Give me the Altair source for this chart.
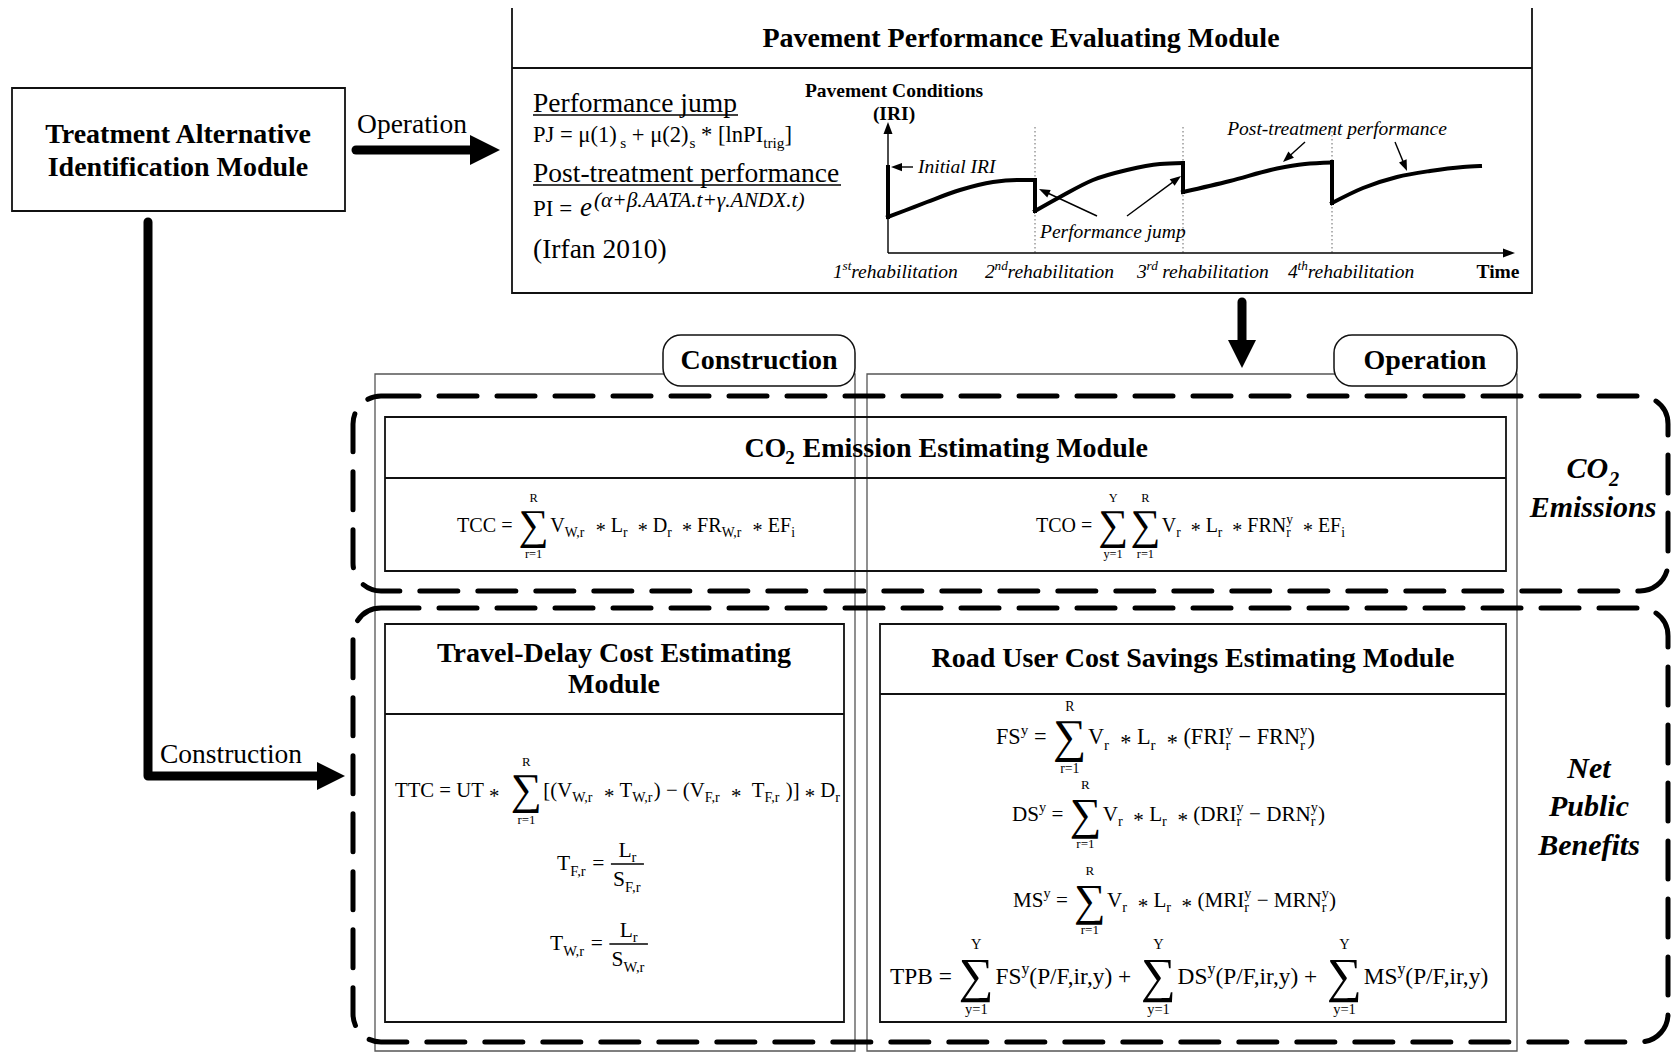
import math
import altair as alt
import pandas as pd

# ---------------------------------------------------------------
# canvas (page pixel coordinates of the reference figure)
# ---------------------------------------------------------------
W, H, OFF = 1663, 1045, 8
SERIF = "Liberation Serif"

# ---------------- boxes ----------------
box_name = ["Treatment", "Pavement", "CO2 module", "Travel-delay", "Road user"]
box_left = [12, 512, 385, 385, 880]
box_right = [345, 1532, 1506, 844, 1506]
box_top = [88, 7, 417, 624, 624]
box_bottom = [211, 293, 571, 1022, 1022]

column_name = ["Construction column", "Operation column"]
column_left = [375, 867]
column_right = [855, 1517]
column_top = [374, 374]
column_bottom = [1051, 1051]

divider_left = [512, 385, 385, 880]
divider_right = [1532, 1506, 844, 1506]
divider_y = [68, 478, 714, 694]

tag_text = ["Construction", "Operation"]
tag_left = [663, 1334]
tag_right = [855, 1517]
tag_top = [335, 335]
tag_bottom = [386, 386]
tag_cx = [759, 1425]
tag_base = [369, 369]

group_name = ["CO2 Emissions", "Net Public Benefits"]
group_left = [353, 353]
group_right = [1668, 1668]
group_top = [396, 608]
group_bottom = [591, 1042]

# ---------------- thick flow arrows ----------------
flow_id = ["operation", "operation", "construction", "construction", "construction", "down", "down"]
flow_x = [356, 472, 148, 148, 320, 1242, 1242]
flow_y = [150, 150, 222, 776, 776, 302, 344]
flow_head_x = [500, 345, 1242]
flow_head_y = [150, 776, 368]
flow_head_angle = [0, 0, 90]
flow_head_len = [30, 28, 28]

# ---------------- performance graph ----------------
axis_x0, axis_y0 = 888, 253
axis_top, axis_right = 122, 1515
rehab_x = [888, 1035, 1183, 1332]
rehab_high = [167, 180, 163, 162]
rehab_low = [217, 211, 192, 203]
dotted_x = [1035, 1183, 1332]
dotted_top, dotted_bottom = 127, 253

curve_x = [
    [888, 905, 927, 960, 993, 1017, 1035],
    [1035, 1060, 1093, 1127, 1160, 1183],
    [1183, 1230, 1277, 1305, 1332],
    [1332, 1363, 1397, 1430, 1463, 1480],
]
curve_y = [
    [217, 210.5, 202, 190, 182, 180, 180],
    [211, 197, 180, 170, 164, 163],
    [192, 181, 168.5, 164, 162.5],
    [203, 188, 177, 171, 167, 166],
]

note_x1 = [913, 1097, 1127, 1305, 1395]
note_y1 = [167, 216, 216, 142, 142]
note_x2 = [891, 1039, 1181, 1283, 1407]
note_y2 = [167, 189, 176, 162, 171]

rehab_label_num = ["1", "2", "3", "4"]
rehab_label_sup = ["st", "nd", "rd", "th"]
rehab_label_word = ["rehabilitation", "rehabilitation", " rehabilitation", "rehabilitation"]
rehab_label_left = [833, 985, 1137, 1288]
rehab_label_base = 278

underline_left = [533, 533]
underline_right = [738, 841]
underline_y = [115, 185]

# ---------------------------------------------------------------
# simple text metrics (Times / Liberation Serif advance widths)
# ---------------------------------------------------------------
CW = {" ": 250, "(": 333, ")": 333, "[": 333, "]": 333, ",": 250, ".": 250, "/": 278,
      "=": 564, "+": 564, "\u2212": 564, "*": 500, "\u2211": 713, "-": 333,
      "\u03bc": 576, "\u03b1": 520, "\u03b2": 500, "\u03b3": 440,
      "A": 722, "B": 667, "C": 667, "D": 722, "E": 611, "F": 556, "I": 333, "L": 611,
      "M": 889, "N": 722, "O": 722, "P": 556, "R": 667, "S": 556, "T": 611, "U": 722,
      "V": 722, "W": 944, "X": 722, "Y": 722,
      "a": 444, "b": 500, "c": 444, "d": 500, "e": 444, "f": 333, "g": 500, "h": 500,
      "i": 278, "j": 278, "l": 278, "m": 778, "n": 500, "o": 500, "p": 500, "r": 333,
      "s": 389, "t": 278, "u": 500, "v": 500, "y": 500}
STYLE_W = {"normal": 1.0, "italic": 0.98, "bold": 1.05, "bolditalic": 1.02}
AST_CHAR = "\u2217"


def tw(s, size, wf=1.0):
    return sum(CW.get(c, 500) for c in s) * size / 1000.0 * wf


def lay(tokens, s, wf=1.0):
    items, rules = [], []
    pos = [0.0]

    def emit(txt, z, dy):
        lead = len(txt) - len(txt.lstrip(" "))
        trail = len(txt) - len(txt.rstrip(" "))
        core = txt.strip(" ")
        pos[0] += lead * tw(" ", z, wf)
        if core:
            items.append((pos[0], dy, core, z))
            pos[0] += tw(core, z, wf)
        pos[0] += trail * tw(" ", z, wf)

    def emit_math(txt, z, dy):
        parts = txt.split(AST_CHAR)
        for i, part in enumerate(parts):
            emit(part, z, dy)
            if i < len(parts) - 1:
                items.append((pos[0], dy + 0.27 * z, "*", z))
                pos[0] += tw("*", z, wf)

    for tok in tokens:
        k = tok[0]
        x = pos[0]
        if k == "t":
            emit_math(tok[1], s, 0.0)
        elif k == "sub":
            emit_math(tok[1], 0.68 * s, 0.26 * s)
        elif k == "sup":
            emit_math(tok[1], 0.68 * s, -0.42 * s)
        elif k == "subsup":
            z = 0.68 * s
            items.append((x, 0.26 * s, tok[1], z))
            items.append((x, -0.42 * s, tok[2], z))
            pos[0] = x + max(tw(tok[1], z, wf), tw(tok[2], z, wf))
        elif k == "sum":
            g, lz = 2.1 * s, 0.62 * s
            gw = tw("\u2211", g, wf)
            w = max(gw, tw(tok[1], lz, wf), tw(tok[2], lz, wf))
            cx = x + 0.05 * s + w / 2
            items.append((cx - gw / 2, 0.36 * s, "\u2211", g))
            items.append((cx - tw(tok[1], lz, wf) / 2, -1.5 * s, tok[1], lz))
            items.append((cx - tw(tok[2], lz, wf) / 2, 1.3 * s, tok[2], lz))
            pos[0] = x + w + 0.12 * s
        elif k == "frac":
            ni, _, nw = lay(tok[1], s, wf)
            di, _, dw = lay(tok[2], s, wf)
            bw = max(nw, dw) + 0.2 * s
            x0 = x + 0.05 * s
            for (a, b, t, z) in ni:
                items.append((x0 + (bw - nw) / 2 + a, b - 0.62 * s, t, z))
            for (a, b, t, z) in di:
                items.append((x0 + (bw - dw) / 2 + a, b + 0.75 * s, t, z))
            rules.append((x0, x0 + bw, -0.28 * s))
            pos[0] = x0 + bw + 0.05 * s
    return items, rules, pos[0]


text_rows, bar_rows = [], []


def add(text, x, y, size, style="normal", align="left"):
    text_rows.append(dict(x=x, y=y, text=text, size=size, style=style, align=align))


def place(tokens, x, base, s, style="normal", anchor="left"):
    wf = STYLE_W[style]
    items, rules, w = lay(tokens, s, wf)
    x0 = x - w / 2 if anchor == "center" else x
    for (a, b, t, z) in items:
        add(t, x0 + a, base + b, z, style)
    for (a, b, c) in rules:
        bar_rows.append(dict(x1=x0 + a, x2=x0 + b, y=base + c))


def place_fit(tokens, left, right, base, style="normal"):
    _, _, w1 = lay(tokens, 1.0, STYLE_W[style])
    place(tokens, left, base, (right - left) / w1, style)


# ---------------- texts ----------------
add("Treatment Alternative", 178, 143, 28, "bold", "center")
add("Identification Module", 178, 176, 28, "bold", "center")
add("Operation", 412, 133, 27.5, "normal", "center")
add("Construction", 231, 763, 27.5, "normal", "center")
add("Pavement Performance Evaluating  Module", 1021, 47, 28, "bold", "center")
for t, cx, b in zip(tag_text, tag_cx, tag_base):
    add(t, cx, b, 28, "bold", "center")
add("Travel-Delay Cost  Estimating", 614, 662, 28, "bold", "center")
add("Module", 614, 693, 28, "bold", "center")
add("Road User Cost Savings Estimating Module", 1193, 667, 28, "bold", "center")
place([("t", "CO"), ("sub", "2"), ("t", " Emission Estimating Module")], 945, 457, 28, "bold", "center")
place([("t", "CO"), ("sub", "2")], 1593, 478, 30, "bolditalic", "center")
add("Emissions", 1593, 517, 30, "bolditalic", "center")
for word, b in zip(["Net", "Public", "Benefits"], [778, 816, 855]):
    add(word, 1589, b, 30, "bolditalic", "center")

# pavement module left column
add("Performance jump", 533, 112, 27.5)
place_fit([("t", "PJ = \u03bc(1)"), ("sub", "s"), ("t", " + \u03bc(2)"), ("sub", "s"),
           ("t", " * [lnPI"), ("sub", "trig"), ("t", "]")], 533, 792, 142)
add("Post-treatment performance", 533, 182, 27.5)
add("PI =", 533, 216, 23)
add("e", 580, 216, 27, "italic")
place_fit([("t", "(\u03b1+\u03b2.AATA.t+\u03b3.ANDX.t)")], 594, 813, 207, "italic")
add("(Irfan 2010)", 533, 258, 27.5)

# graph annotations
add("Pavement Conditions", 894, 97, 19.5, "bold", "center")
add("(IRI)", 894, 120, 19.5, "bold", "center")
add("Time", 1498, 278, 19.5, "bold", "center")
add("Initial IRI", 918, 173, 19.5, "italic")
add("Performance jump", 1040, 238, 19.5, "italic")
add("Post-treatment performance", 1337, 135, 19.5, "italic", "center")
for n, sp, wd, lx in zip(rehab_label_num, rehab_label_sup, rehab_label_word, rehab_label_left):
    place([("t", n), ("sup", sp), ("t", wd)], lx, rehab_label_base, 19.5, "italic")

# formulas
AST = " " + AST_CHAR + " "
MINUS = " \u2212 "
place_fit([("t", "TCC = "), ("sum", "R", "r=1"), ("t", "V"), ("sub", "W,r"), ("t", AST + "L"), ("sub", "r"),
           ("t", AST + "D"), ("sub", "r"), ("t", AST + "FR"), ("sub", "W,r"), ("t", AST + "EF"), ("sub", "i")],
          457, 795, 532)
place_fit([("t", "TCO = "), ("sum", "Y", "y=1"), ("sum", "R", "r=1"), ("t", "V"), ("sub", "r"),
           ("t", AST + "L"), ("sub", "r"), ("t", AST + "FRN"), ("subsup", "r", "y"),
           ("t", AST + "EF"), ("sub", "i")], 1036, 1345, 532)
place_fit([("t", "TTC = UT" + AST), ("sum", "R", "r=1"), ("t", "[(V"), ("sub", "W,r"), ("t", AST + "T"),
           ("sub", "W,r"), ("t", ")" + MINUS + "(V"), ("sub", "F,r"), ("t", AST + " T"), ("sub", "F,r"),
           ("t", " )]" + AST + "D"), ("sub", "r")], 395, 840, 797)
place_fit([("t", "T"), ("sub", "F,r"), ("t", " = "),
           ("frac", [("t", "L"), ("sub", "r")], [("t", "S"), ("sub", "F,r")])], 557, 645, 870)
place_fit([("t", "T"), ("sub", "W,r"), ("t", " = "),
           ("frac", [("t", "L"), ("sub", "r")], [("t", "S"), ("sub", "W,r")])], 550, 649, 950)
for lab, a, b, left, right, base in [("FS", "FRI", "FRN", 996, 1315, 744),
                                      ("DS", "DRI", "DRN", 1012, 1325, 821),
                                      ("MS", "MRI", "MRN", 1013, 1336, 907)]:
    place_fit([("t", lab), ("sup", "y"), ("t", " = "), ("sum", "R", "r=1"), ("t", "V"), ("sub", "r"),
               ("t", AST + "L"), ("sub", "r"), ("t", AST + "(" + a), ("subsup", "r", "y"),
               ("t", MINUS + b), ("subsup", "r", "y"), ("t", ")")], left, right, base)
place_fit([("t", "TPB = "), ("sum", "Y", "y=1"), ("t", "FS"), ("sup", "y"), ("t", "(P/F,ir,y) + "),
           ("sum", "Y", "y=1"), ("t", "DS"), ("sup", "y"), ("t", "(P/F,ir,y) + "),
           ("sum", "Y", "y=1"), ("t", "MS"), ("sup", "y"), ("t", "(P/F,ir,y)")], 890, 1491, 984)

# ---------------------------------------------------------------
# tables
# ---------------------------------------------------------------
canvas = pd.DataFrame(dict(x1=[OFF], x2=[OFF + W], y1=[OFF], y2=[OFF + H]))
boxes = pd.DataFrame(dict(name=box_name, x1=box_left, x2=box_right, y1=box_top, y2=box_bottom))
columns = pd.DataFrame(dict(name=column_name, x1=column_left, x2=column_right, y1=column_top, y2=column_bottom))
dividers = pd.DataFrame(dict(x1=divider_left, x2=divider_right, y=divider_y))
tags = pd.DataFrame(dict(name=tag_text, x1=tag_left, x2=tag_right, y1=tag_top, y2=tag_bottom))
groups = pd.DataFrame(dict(name=group_name, x1=group_left, x2=group_right, y1=group_top, y2=group_bottom))

flow_order = []
cnt = {}
for f in flow_id:
    cnt[f] = cnt.get(f, -1) + 1
    flow_order.append(cnt[f])
flows = pd.DataFrame(dict(id=flow_id, o=flow_order, x=flow_x, y=flow_y))
flow_heads = pd.DataFrame(dict(x=flow_head_x, y=flow_head_y, ang=flow_head_angle,
                               size=[l * l for l in flow_head_len]))

thin_lines, thin_heads = [], []
arrow_specs = list(zip(note_x1, note_y1, note_x2, note_y2, [11] * len(note_x1)))
arrow_specs += [(axis_x0, axis_y0, axis_x0, axis_top, 12), (axis_x0, axis_y0, axis_right, axis_y0, 12)]
for i, (a, b, c, d, ln) in enumerate(arrow_specs):
    dx, dy = c - a, d - b
    L = math.hypot(dx, dy)
    ux, uy = dx / L, dy / L
    thin_lines += [dict(id=i, o=0, x=a, y=b), dict(id=i, o=1, x=c - ux * ln * 0.7, y=d - uy * ln * 0.7)]
    thin_heads.append(dict(x=c, y=d, ang=math.degrees(math.atan2(dy, dx)) % 360, size=ln * ln))
thin_lines = pd.DataFrame(thin_lines)
thin_heads = pd.DataFrame(thin_heads)

curve_rows = []
for k, (xs, ys) in enumerate(zip(curve_x, curve_y)):
    for j, (xv, yv) in enumerate(zip(xs, ys)):
        curve_rows.append(dict(seg=k, o=j, x=xv, y=yv))
curves = pd.DataFrame(curve_rows)
drops = pd.DataFrame(dict(x=rehab_x, y1=rehab_high, y2=rehab_low))
dotted = pd.DataFrame(dict(x=dotted_x, y1=[dotted_top] * 3, y2=[dotted_bottom] * 3))
underlines = pd.DataFrame(dict(x1=underline_left, x2=underline_right, y=underline_y))
bars = pd.DataFrame(bar_rows)
texts = pd.DataFrame(text_rows)

# ---------------------------------------------------------------
# chart
# ---------------------------------------------------------------
XS = alt.Scale(domain=[OFF, OFF + W], nice=False, zero=False)
YS = alt.Scale(domain=[OFF, OFF + H], nice=False, zero=False, reverse=True)


def X(f):
    return alt.X(f + ":Q", scale=XS, axis=None)


def Y(f):
    return alt.Y(f + ":Q", scale=YS, axis=None)


def rects(df, **kw):
    return alt.Chart(df).mark_rect(**kw).encode(x=X("x1"), x2=alt.X2("x2"), y=Y("y1"), y2=alt.Y2("y2"))


def hrules(df, **kw):
    return alt.Chart(df).mark_rule(**kw).encode(x=X("x1"), x2=alt.X2("x2"), y=Y("y"))


layers = []
layers.append(rects(canvas, fill="white", fillOpacity=1, strokeWidth=0))
layers.append(rects(columns, fill="white", fillOpacity=0, stroke="#555555", strokeWidth=1.3))
layers.append(rects(groups, fill="white", fillOpacity=0, stroke="black", strokeWidth=5,
                    strokeDash=[38, 20], cornerRadius=28, strokeCap="round"))
layers.append(rects(boxes, fill="white", fillOpacity=0, stroke="#111111", strokeWidth=1.8))
layers.append(hrules(dividers, color="#111111", strokeWidth=1.8))
layers.append(rects(tags, fill="white", fillOpacity=1, stroke="#111111", strokeWidth=1.5, cornerRadius=18))
layers.append(alt.Chart(dotted).mark_rule(color="#666666", strokeWidth=1, strokeDash=[1.5, 2.5])
              .encode(x=X("x"), y=Y("y1"), y2=alt.Y2("y2")))
layers.append(alt.Chart(thin_lines).mark_line(color="black", strokeWidth=1.4)
              .encode(x=X("x"), y=Y("y"), detail="id:N", order="o:O"))
layers.append(alt.Chart(curves).mark_line(color="black", strokeWidth=4, interpolate="monotone",
                                         strokeCap="square")
              .encode(x=X("x"), y=Y("y"), detail="seg:N", order="o:O"))
layers.append(alt.Chart(drops).mark_rule(color="black", strokeWidth=4, strokeCap="square")
              .encode(x=X("x"), y=Y("y1"), y2=alt.Y2("y2")))
layers.append(alt.Chart(flows).mark_line(color="black", strokeWidth=9, strokeCap="round", strokeJoin="round")
              .encode(x=X("x"), y=Y("y"), detail="id:N", order="o:O"))
layers.append(alt.Chart(flow_heads).mark_point(shape="M0,0L-2,-1L-2,1Z", filled=True, color="black", opacity=1)
              .encode(x=X("x"), y=Y("y"), size=alt.Size("size:Q", scale=None),
                      angle=alt.Angle("ang:Q", scale=None)))
layers.append(alt.Chart(thin_heads).mark_point(shape="M0,0L-2,-0.75L-2,0.75Z", filled=True, color="black",
                                               opacity=1)
              .encode(x=X("x"), y=Y("y"), size=alt.Size("size:Q", scale=None),
                      angle=alt.Angle("ang:Q", scale=None)))
layers.append(hrules(underlines, color="black", strokeWidth=1.3))
if len(bars):
    layers.append(hrules(bars, color="black", strokeWidth=1.5))

for style in ["normal", "italic", "bold", "bolditalic"]:
    for align in ["left", "center"]:
        sub = texts[(texts["style"] == style) & (texts["align"] == align)]
        if len(sub) == 0:
            continue
        layers.append(
            alt.Chart(sub).mark_text(align=align, baseline="alphabetic", font=SERIF, color="black",
                                     fontWeight="bold" if "bold" in style else "normal",
                                     fontStyle="italic" if "italic" in style else "normal")
            .encode(x=X("x"), y=Y("y"), text=alt.Text("text:N"), size=alt.Size("size:Q", scale=None))
        )

chart = (
    alt.layer(*layers)
    .properties(width=W, height=H, padding=0, autosize=alt.AutoSizeParams(type="none"))
    .configure_view(stroke="transparent", strokeWidth=0)
    .configure(background="white")
)

chart.save("out.html", embed_options={"renderer": "svg", "actions": False})
